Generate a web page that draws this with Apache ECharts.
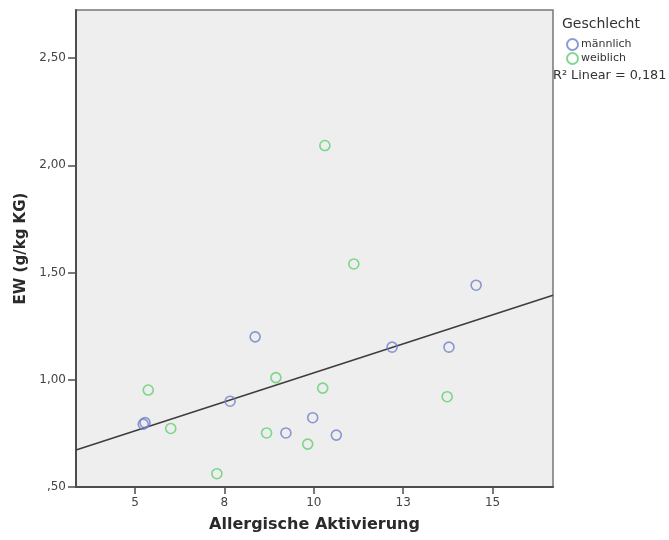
<!DOCTYPE html>
<html>
<head>
<meta charset="utf-8">
<script src="https://cdn.jsdelivr.net/npm/echarts@6/dist/echarts.min.js"></script>
<style>
  html, body { margin: 0; padding: 0; background: #ffffff; }
  #chart { width: 669px; height: 540px; }
</style>
</head>
<body>
<div id="chart"></div>
<script>
// Allergic activation vs. EW, split by sex
const maleX = [8.36, 5.28, 5.23, 7.66, 9.97, 9.22, 10.63, 14.54, 12.19, 13.78];
const maleY = [1.20, 0.80, 0.793, 0.90, 0.823, 0.752, 0.742, 1.441, 1.152, 1.152];
const femaleX = [8.94, 5.37, 6.00, 10.25, 8.68, 9.83, 7.29, 10.31, 11.12, 13.73];
const femaleY = [1.01, 0.952, 0.773, 0.961, 0.752, 0.70, 0.562, 2.092, 1.54, 0.921];

const seriesNames = ['männlich', 'weiblich'];
const xTicks = [5, 7.5, 10, 12.5, 15];
const yTicks = [0.5, 1.0, 1.5, 2.0, 2.5];
const xRange = [3.35, 16.69];
const yRange = [0.5, 2.724];

const pair = (xs, ys) => xs.map((x, i) => [x, ys[i]]);
const male = pair(maleX, maleY);
const female = pair(femaleX, femaleY);

// Least-squares fit over all points
const all = male.concat(female);
const n = all.length;
const mx = all.reduce((s, p) => s + p[0], 0) / n;
const my = all.reduce((s, p) => s + p[1], 0) / n;
let sxx = 0, sxy = 0, syy = 0;
all.forEach(([x, y]) => {
  sxx += (x - mx) * (x - mx);
  sxy += (x - mx) * (y - my);
  syy += (y - my) * (y - my);
});
const slope = sxy / sxx;
const intercept = my - slope * mx;
const r2 = (sxy * sxy) / (sxx * syy);
const fitLine = xRange.map(x => [x, intercept + slope * x]);

const fmtY = v => v.toFixed(2).replace('.', ',').replace(/^0/, '');
const fmtX = v => String(Math.round(v));

const chart = echarts.init(document.getElementById('chart'), null, { renderer: 'canvas' });
const FONT = 'DejaVu Sans';

chart.setOption({
  animation: false,
  backgroundColor: '#ffffff',
  textStyle: { fontFamily: FONT },
  grid: {
    left: 76, right: 116, top: 10, bottom: 53,
    show: true,
    backgroundColor: '#eeeeee',
    borderColor: '#777777',
    borderWidth: 1.5
  },
  xAxis: {
    type: 'value',
    min: xRange[0], max: xRange[1],
    name: 'Allergische Aktivierung',
    nameLocation: 'middle',
    nameGap: 30,
    nameTextStyle: { fontFamily: FONT, fontSize: 16, fontWeight: 'bold', color: '#2a2a2a' },
    axisLine: { show: true, lineStyle: { color: '#4d4d4d', width: 2 } },
    axisTick: { show: true, length: 7, customValues: xTicks, lineStyle: { color: '#4d4d4d', width: 1.5 } },
    axisLabel: { customValues: xTicks, formatter: fmtX, margin: 10, fontSize: 12, color: '#444444', fontFamily: FONT },
    splitLine: { show: false }
  },
  yAxis: {
    type: 'value',
    min: yRange[0], max: yRange[1],
    name: 'EW (g/kg KG)',
    nameLocation: 'middle',
    nameGap: 47,
    nameRotate: 90,
    nameTextStyle: { fontFamily: FONT, fontSize: 15, fontWeight: 'bold', color: '#2a2a2a' },
    axisLine: { show: true, lineStyle: { color: '#4d4d4d', width: 2 } },
    axisTick: { show: true, length: 8, customValues: yTicks, lineStyle: { color: '#4d4d4d', width: 1.5 } },
    axisLabel: { customValues: yTicks, formatter: fmtY, margin: 10, fontSize: 12, color: '#444444', fontFamily: FONT },
    splitLine: { show: false }
  },
  legend: {
    orient: 'vertical',
    left: 566, top: 38,
    padding: 0,
    itemWidth: 11, itemHeight: 11, itemGap: 1,
    data: seriesNames,
    textStyle: { fontFamily: FONT, fontSize: 11, color: '#333333', padding: [0, 0, 0, -2] }
  },
  graphic: [
    {
      type: 'text', left: 562, top: 17,
      style: { text: 'Geschlecht', font: '14px "DejaVu Sans"', fill: '#333333' }
    },
    {
      type: 'text', left: 553, top: 69,
      style: { text: 'R² Linear = ' + r2.toFixed(3).replace('.', ','), font: '12.8px "DejaVu Sans"', fill: '#333333' }
    }
  ],
  series: [
    {
      name: seriesNames[0], type: 'scatter', data: male,
      symbol: 'circle', symbolSize: 10,
      itemStyle: { color: 'rgba(0,0,0,0)', borderColor: '#6f7fc9', borderWidth: 1.6 },
      z: 3
    },
    {
      name: seriesNames[1], type: 'scatter', data: female,
      symbol: 'circle', symbolSize: 10,
      itemStyle: { color: 'rgba(0,0,0,0)', borderColor: '#5fcf6f', borderWidth: 1.6 },
      z: 3
    },
    {
      name: 'Linear', type: 'line', data: fitLine,
      showSymbol: false, symbol: 'none',
      lineStyle: { color: '#3d3d3d', width: 1.6 },
      silent: true, z: 2
    }
  ]
});
</script>
</body>
</html>
